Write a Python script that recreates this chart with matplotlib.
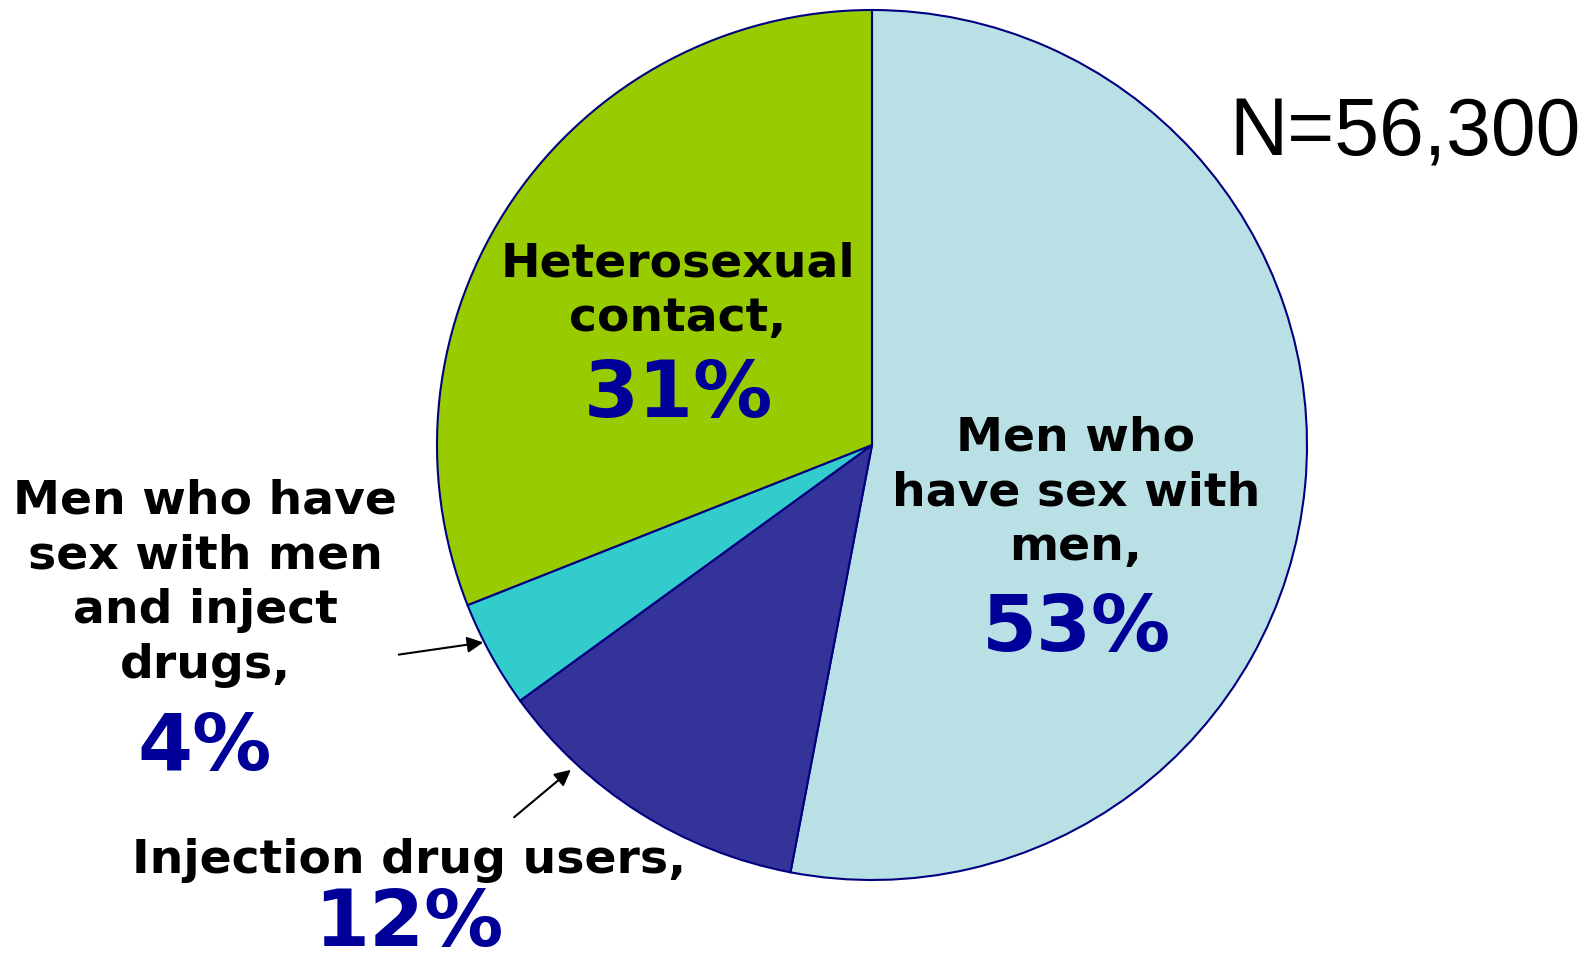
import matplotlib.pyplot as plt

# HIV infections by transmission category
categories = ['Men who have sex with men', 'Injection drug users',
              'Men who have sex with men and inject drugs', 'Heterosexual contact']
shares = [53, 12, 4, 31]
colors = ['#B9E0E4', '#333399', '#33CCCC', '#99CC00']
total = '56,300'

W, H = 1595, 962
fig = plt.figure(figsize=(W / 100, H / 100), dpi=100)
ax = fig.add_axes([0, 0, 1, 1])

cx, cy, r = 872, H - 446, 435
ax.pie(shares, colors=colors, startangle=90, counterclock=False,
       center=(cx, cy), radius=r, frame=True,
       wedgeprops=dict(edgecolor='#000080', linewidth=1.5))
ax.set_xlim(0, W)
ax.set_ylim(0, H)
ax.axis('off')

lab = dict(fontsize=34, fontweight='bold', color='black', ha='center', va='center',
           linespacing=1.28)
pct = dict(fontsize=57, fontweight='bold', color='#000099', ha='center', va='center')

def y(v):
    return H - v

ax.text(678, y(291), 'Heterosexual\ncontact,', **lab)
ax.text(678, y(395), f'{shares[3]}%', **pct)

ax.text(1076, y(493), 'Men who\nhave sex with\nmen,', **lab)
ax.text(1076, y(629), f'{shares[0]}%', **pct)

ax.text(205, y(583), 'Men who have\nsex with men\nand inject\ndrugs,', **lab)
ax.text(205, y(748), f'{shares[2]}%', **pct)

ax.text(409, y(861), 'Injection drug users,', **lab)
ax.text(409, y(924), f'{shares[1]}%', **pct)

ax.text(1229, y(134), f'N={total}', fontsize=58, family='Liberation Sans',
        ha='left', va='center')

arrow = dict(arrowstyle='-|>', color='black', lw=1.5, mutation_scale=24)
ax.annotate('', xy=(486, y(643)), xytext=(396, y(656)), arrowprops=arrow)
ax.annotate('', xy=(573, y(769)), xytext=(512, y(820)), arrowprops=arrow)

fig.savefig('out.png', dpi=100, facecolor='white')
